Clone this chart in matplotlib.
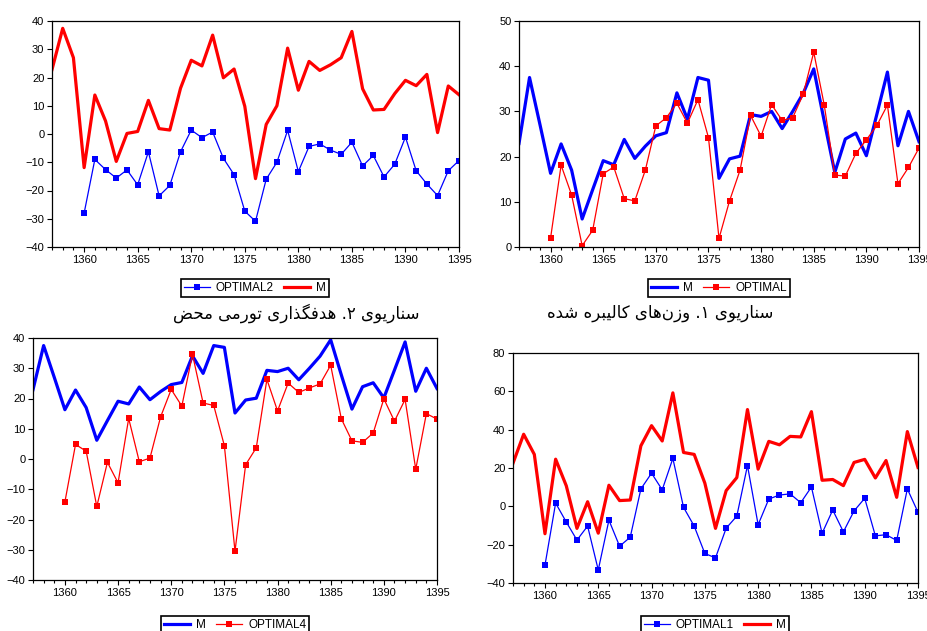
# Four scenario panels: M against the optimal-rule series, 1357-1395
import matplotlib
matplotlib.use('Agg')
import matplotlib.pyplot as plt
from matplotlib.ticker import MultipleLocator
import numpy as np

plt.rcParams['font.family'] = ['Liberation Sans', 'DejaVu Sans']

years = list(range(1357, 1396))
opt_years = years[3:]

# M, scenario 2 (pure inflation targeting)
m_pure = [22.8, 37.4, 27.0, -11.9, 13.8, 4.6, -9.7, 0.2, 0.9, 11.9,
          1.9, 1.4, 16.2, 26.1, 24.1, 35.0, 19.9, 23.0, 9.8, -15.8,
          3.4, 10.0, 30.4, 15.5, 25.7, 22.5, 24.5, 27.0, 36.3, 16.0,
          8.5, 8.7, 14.3, 19.0, 17.1, 21.1, 0.5, 17.0, 13.9]
optimal2 = [-28.0, -9.0, -12.6, -15.6, -12.7, -18.0, -6.3, -21.9, -18.2, -6.3,
            1.4, -1.3, 0.7, -8.6, -14.4, -27.3, -30.9, -16.0, -10.0, 1.3,
            -13.3, -4.4, -3.5, -5.7, -7.2, -2.9, -11.3, -7.6, -15.2, -10.7,
            -1.1, -13.0, -17.7, -21.8, -13.0, -9.4]

# M, scenario 1 (calibrated weights) - same series in the lower left panel
m_calib = [22.9, 37.5, 27.0, 16.3, 22.8, 17.0, 6.2, 12.7, 19.1, 18.2,
           23.8, 19.6, 22.3, 24.6, 25.3, 34.1, 28.3, 37.5, 36.9, 15.2,
           19.5, 20.1, 29.3, 28.9, 30.0, 26.2, 30.0, 34.0, 39.4, 27.8,
           16.5, 23.9, 25.2, 20.2, 29.4, 38.7, 22.4, 30.0, 23.3]
optimal = [2.0, 18.1, 11.5, 0.3, 3.7, 16.2, 17.7, 10.7, 10.2, 17.0,
           26.8, 28.6, 31.8, 27.4, 32.6, 24.2, 1.9, 10.2, 17.0, 29.1,
           24.5, 31.5, 28.0, 28.6, 33.8, 43.1, 31.4, 15.9, 15.7, 20.7,
           23.7, 26.9, 31.4, 14.0, 17.6, 21.9]

optimal4 = [-14.2, 4.8, 2.6, -15.7, -1.1, -7.9, 13.4, -0.9, 0.3, 13.9,
            23.0, 17.5, 34.6, 18.5, 17.7, 4.4, -30.5, -1.9, 3.7, 26.3,
            15.9, 25.1, 22.0, 23.5, 24.8, 31.0, 13.3, 6.0, 5.5, 8.6,
            19.9, 12.5, 19.7, -3.4, 15.0, 13.2]

m_4 = [22.5, 37.6, 27.1, -14.3, 24.6, 10.7, -11.5, 2.4, -14.0, 11.0,
       3.0, 3.3, 31.6, 42.1, 34.1, 59.2, 28.1, 27.1, 12.1, -11.5,
       8.2, 15.0, 50.5, 19.4, 33.9, 32.1, 36.5, 36.2, 49.4, 13.6,
       14.0, 10.8, 22.9, 24.5, 14.8, 23.9, 4.7, 39.0, 20.3]
optimal1 = [-30.7, 1.7, -8.2, -17.6, -10.3, -33.2, -7.2, -20.8, -16.1, 9.1,
            17.3, 8.6, 25.0, -0.5, -10.3, -24.6, -26.9, -11.4, -5.1, 21.3,
            -9.6, 3.8, 5.9, 6.5, 1.9, 10.1, -14.1, -1.9, -13.3, -2.4,
            4.2, -15.4, -14.8, -17.8, 9.1, -3.1]

caption_1 = 'سناریوی ۱. وزن‌های کالیبره شده'
caption_2 = 'سناریوی ۲. هدفگذاری تورمی محض'

# presentation forms: (isolated, final, initial, medial)
FORMS = {
    'س': '\uFEB1\uFEB2\uFEB3\uFEB4', 'ن': '\uFEE5\uFEE6\uFEE7\uFEE8',
    'ی': '\uFBFC\uFBFD\uFBFE\uFBFF', 'ه': '\uFEE9\uFEEA\uFEEB\uFEEC',
    'ک': '\uFB8E\uFB8F\uFB90\uFB91', 'ل': '\uFEDD\uFEDE\uFEDF\uFEE0',
    'ب': '\uFE8F\uFE90\uFE91\uFE92', 'ش': '\uFEB5\uFEB6\uFEB7\uFEB8',
    'ف': '\uFED1\uFED2\uFED3\uFED4', 'گ': '\uFB92\uFB93\uFB94\uFB95',
    'ت': '\uFE95\uFE96\uFE97\uFE98', 'م': '\uFEE1\uFEE2\uFEE3\uFEE4',
    'ح': '\uFEA1\uFEA2\uFEA3\uFEA4', 'ض': '\uFEBD\uFEBE\uFEBF\uFEC0',
    'ا': '\uFE8D\uFE8E', 'ر': '\uFEAD\uFEAE', 'و': '\uFEED\uFEEE',
    'ز': '\uFEAF\uFEB0', 'د': '\uFEA9\uFEAA', 'ذ': '\uFEAB\uFEAC',
}


def shape_fa(text):
    # minimal Persian shaping + reversal for left-to-right drawing
    out = []
    for i, c in enumerate(text):
        if c not in FORMS:
            if c != '\u200c':
                out.append(c)
            continue
        prev = text[i - 1] if i > 0 else None
        nxt = text[i + 1] if i + 1 < len(text) else None
        f = FORMS[c]
        join_prev = prev in FORMS and len(FORMS[prev]) == 4
        join_next = nxt in FORMS and len(f) == 4
        if join_prev and join_next:
            out.append(f[3])
        elif join_prev:
            out.append(f[1])
        elif join_next:
            out.append(f[2])
        else:
            out.append(f[0])
    return ''.join(reversed(out))


BLUE = '#0000ff'
RED = '#ff0000'


def style_axes(ax, ylim, ystep):
    ax.set_xlim(1357, 1395)
    ax.set_ylim(*ylim)
    ax.xaxis.set_major_locator(MultipleLocator(5))
    ax.xaxis.set_minor_locator(MultipleLocator(1))
    ax.yaxis.set_major_locator(MultipleLocator(ystep))
    ax.set_xticks([1360, 1365, 1370, 1375, 1380, 1385, 1390, 1395])
    ax.tick_params(axis='both', which='major', direction='out', length=3.5,
                   width=0.8, labelsize=8, pad=2, colors='black')
    ax.tick_params(axis='x', which='minor', direction='out', length=2, width=0.8)
    for s in ax.spines.values():
        s.set_linewidth(0.9)
        s.set_color('black')


def thick(ax, x, y, color, label):
    return ax.plot(x, y, color=color, lw=2.3, label=label)[0]


def thin(ax, x, y, color, label):
    return ax.plot(x, y, color=color, lw=0.9, marker='s', ms=3.8,
                   markeredgewidth=0, label=label)[0]


fig = plt.figure(figsize=(9.28, 6.31), dpi=100)

leg_kw = dict(ncol=2, fontsize=8.5, frameon=True, fancybox=False, edgecolor='black',
              framealpha=1, borderpad=0.25, handlelength=2.2, handletextpad=0.5,
              columnspacing=0.9, borderaxespad=0)

# panel 1 (top left)
ax1 = fig.add_axes([52 / 928, 1 - 247 / 631, 407 / 928, 226 / 631])
h1 = thin(ax1, opt_years, optimal2, BLUE, 'OPTIMAL2')
h2 = thick(ax1, years, m_pure, RED, 'M')
style_axes(ax1, (-40, 40), 10)
lg = fig.legend(handles=[h1, h2], loc='center', bbox_to_anchor=(255 / 928, 1 - 288 / 631), **leg_kw)
lg.get_frame().set_linewidth(1.2)

# panel 2 (top right)
ax2 = fig.add_axes([519 / 928, 1 - 247 / 631, 400 / 928, 226 / 631])
h1 = thick(ax2, years, m_calib, BLUE, 'M')
h2 = thin(ax2, opt_years, optimal, RED, 'OPTIMAL')
style_axes(ax2, (0, 50), 10)
lg = fig.legend(handles=[h1, h2], loc='center', bbox_to_anchor=(719 / 928, 1 - 288 / 631), **leg_kw)
lg.get_frame().set_linewidth(1.2)

# panel 3 (bottom left)
ax3 = fig.add_axes([33 / 928, 1 - 580 / 631, 404 / 928, 242 / 631])
h1 = thick(ax3, years, m_calib, BLUE, 'M')
h2 = thin(ax3, opt_years, optimal4, RED, 'OPTIMAL4')
style_axes(ax3, (-40, 40), 10)
lg = fig.legend(handles=[h1, h2], loc='upper center', bbox_to_anchor=(235 / 928, 1 - 616 / 631), **leg_kw)
lg.get_frame().set_linewidth(1.2)

# panel 4 (bottom right)
ax4 = fig.add_axes([513 / 928, 1 - 583 / 631, 405 / 928, 230 / 631])
h1 = thin(ax4, opt_years, optimal1, BLUE, 'OPTIMAL1')
h2 = thick(ax4, years, m_4, RED, 'M')
style_axes(ax4, (-40, 80), 20)
lg = fig.legend(handles=[h1, h2], loc='upper center', bbox_to_anchor=(715 / 928, 1 - 616 / 631), **leg_kw)
lg.get_frame().set_linewidth(1.2)

# captions
fig.text(296 / 928, 1 - 313 / 631, shape_fa(caption_2), family='DejaVu Sans',
         fontsize=12, ha='center', va='center')
fig.text(660 / 928, 1 - 313 / 631, shape_fa(caption_1), family='DejaVu Sans',
         fontsize=12, ha='center', va='center')

fig.savefig('out.png', dpi=100)
